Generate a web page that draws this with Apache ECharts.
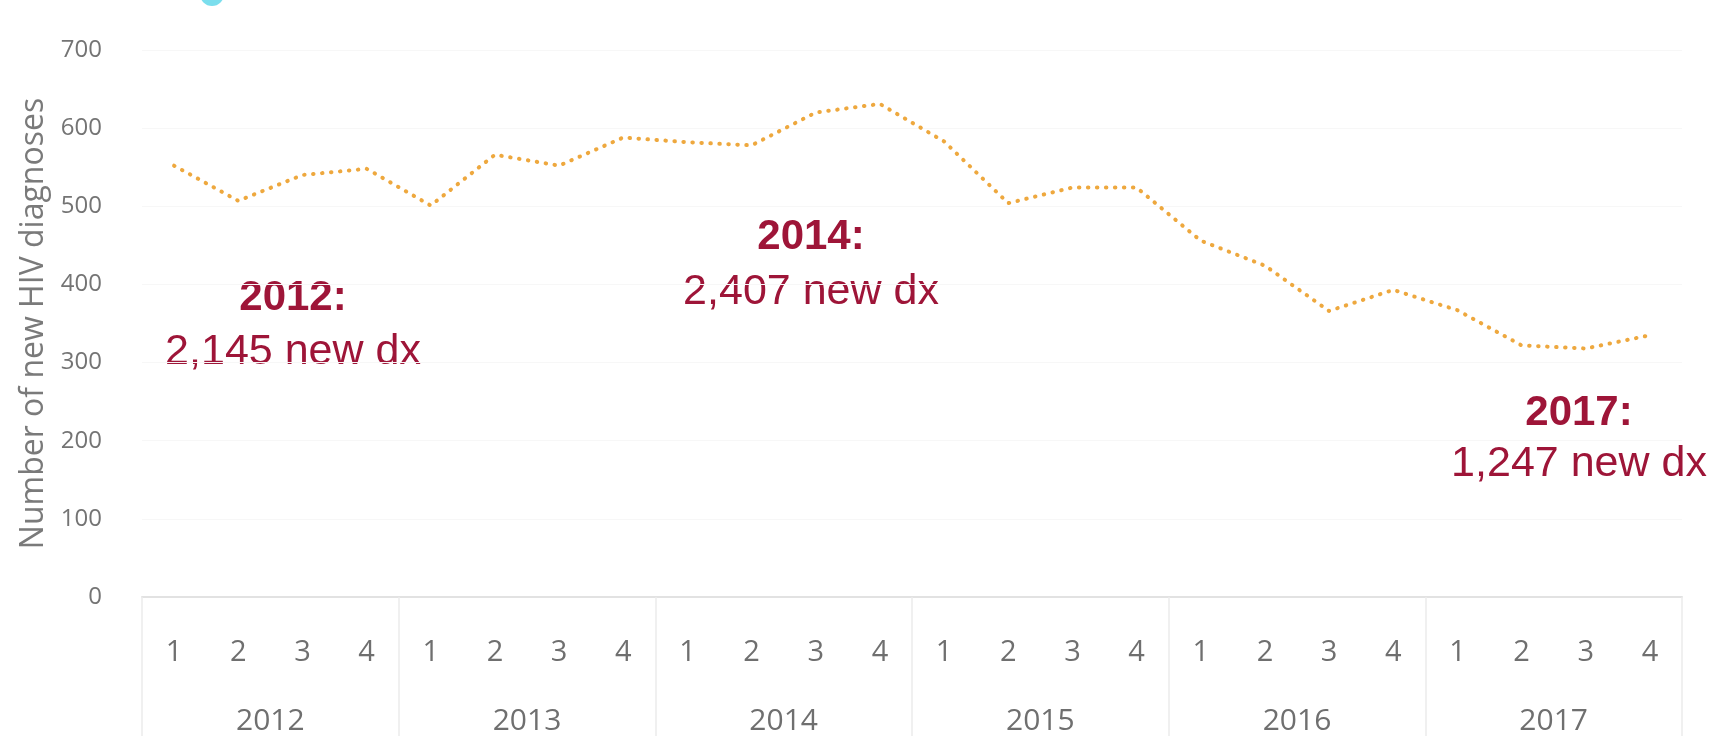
<!DOCTYPE html>
<html><head><meta charset="utf-8">
<script src="https://cdn.jsdelivr.net/npm/echarts@6/dist/echarts.min.js"></script>
<style>html,body{margin:0;padding:0;background:#fff}#c{width:1736px;height:736px}</style>
</head><body><div id="c"></div>
<script>
// ---- data ----
const years = ['2012', '2013', '2014', '2015', '2016', '2017'];
const quarters = ['1', '2', '3', '4'];
const newDiagnoses = [
  552, 507, 540, 548,   // 2012
  501, 566, 552, 588,   // 2013
  582, 578, 620, 631,   // 2014
  583, 504, 524, 524,   // 2015
  456, 424, 366, 393,   // 2016
  367, 322, 318, 335    // 2017
];
const yMin = 0, yMax = 700, yStep = 100;
const annotationYears = ['2012:', '2014:', '2017:'];
const annotationTotals = ['2,145 new dx', '2,407 new dx', '1,247 new dx'];

// ---- build ----
const quarterCats = [];
years.forEach(y => quarters.forEach(q => quarterCats.push(y + '-' + q)));

const red = '#9e1538';
const annPos = [[293, 298, 352], [811, 237, 292], [1579, 413, 464]];
const graphics = [];
annotationYears.forEach((t, i) => {
  graphics.push({type: 'text', style: {text: t, x: annPos[i][0], y: annPos[i][1], fill: red,
    font: 'bold 42px "Liberation Sans", Arial, sans-serif', textAlign: 'center', textVerticalAlign: 'middle'}});
  graphics.push({type: 'text', style: {text: annotationTotals[i], x: annPos[i][0], y: annPos[i][2], fill: red,
    font: '43px "Liberation Sans", Arial, sans-serif', textAlign: 'center', textVerticalAlign: 'middle'}});
});
graphics.push({type: 'circle', shape: {cx: 212, cy: -6, r: 12}, style: {fill: '#5ad6e8', opacity: 0.8}});

const chart = echarts.init(document.getElementById('c'), null, {renderer: 'canvas'});
chart.setOption({
  animation: false,
  backgroundColor: '#ffffff',
  grid: {left: 142, right: 54, top: 50, bottom: 138},
  xAxis: [{
    type: 'category', data: quarterCats, boundaryGap: true, position: 'bottom',
    axisLine: {show: true, lineStyle: {color: '#e2e2e2', width: 2}},
    axisTick: {show: false},
    axisLabel: {interval: 0, margin: 41, fontFamily: 'Open Sans', fontSize: 29, color: '#6f6f6f',
      formatter: v => v.split('-')[1]},
    splitLine: {show: false}
  }, {
    type: 'category', data: years, boundaryGap: true, position: 'bottom',
    axisLine: {show: false},
    axisTick: {show: true, interval: 0, length: 140, lineStyle: {color: '#ececec', width: 1.5}},
    axisLabel: {interval: 0, margin: 109, fontFamily: 'Open Sans', fontSize: 30, color: '#6f6f6f'},
    splitLine: {show: false}
  }],
  yAxis: {
    type: 'value', min: yMin, max: yMax, interval: yStep,
    name: 'Number of new HIV diagnoses', nameLocation: 'middle', nameGap: 76,
    nameTextStyle: {fontFamily: 'Open Sans', fontSize: 32, color: '#7a7a7a'},
    axisLine: {show: false}, axisTick: {show: false},
    axisLabel: {margin: 40, fontFamily: 'Open Sans', fontSize: 24, color: '#747474'},
    splitLine: {show: true, lineStyle: {color: '#f7f7f7', width: 1}}
  },
  series: [{
    type: 'line', xAxisIndex: 0, data: newDiagnoses, symbol: 'none',
    lineStyle: {color: '#eea83e', width: 4, type: [0.5, 8.5], cap: 'round'}
  }],
  graphic: graphics
});
</script></body></html>
